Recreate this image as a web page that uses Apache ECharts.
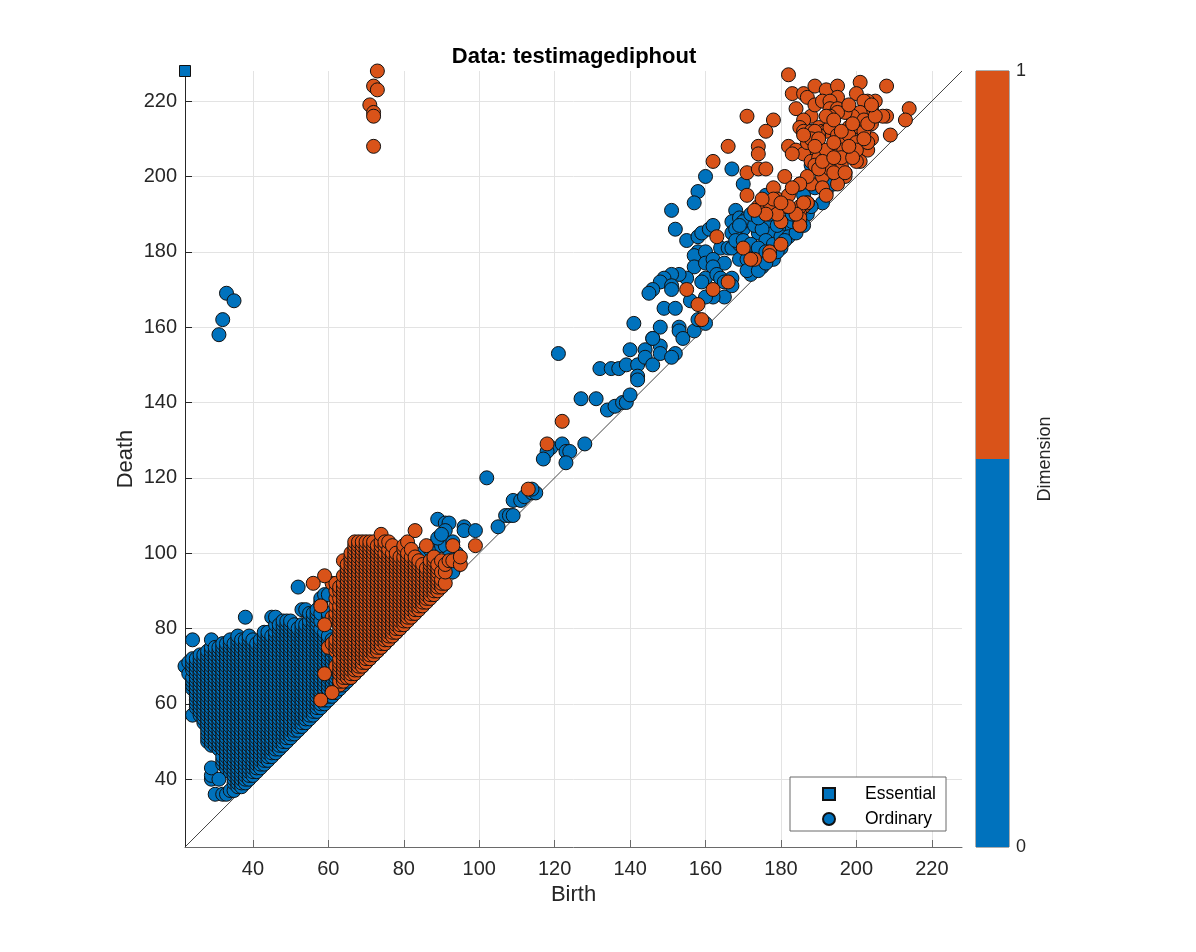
<!DOCTYPE html>
<html><head><meta charset="utf-8">
<style>html,body{margin:0;background:#fff}#c{width:1196px;height:952px}</style>
<script src="https://cdn.jsdelivr.net/npm/echarts@6/dist/echarts.min.js"></script>
</head><body><div id="c"></div>
<script>
const titleText = 'Data: testimagediphout';
const tickValues = [40,60,80,100,120,140,160,180,200,220];
const essential = [[22,228]];
const colorbarPieces = [0.5,0.5];
// Each row: birth, then the deaths read in that column of the lattice
const dim0Columns = [
[22,70],[23,68,71],[24,57,64,65,66,67,69,70,71,72,77],
[25,59,60,61,62,63,64,65,66,67,68,69,70,71,72],
[26,57,58,59,60,61,62,63,64,65,66,67,68,69,70,71,72,73],
[27,55,56,57,58,59,60,61,62,63,64,65,66,67,68,69,70,71,72,73],
[28,50,51,52,53,54,55,56,57,58,59,60,61,62,63,64,65,66,67,68,69,70,71,72,73,74],
[29,40,41,43,49,50,51,52,53,54,55,56,57,58,59,60,61,62,63,64,65,66,67,68,69,70,71,72,73,74,75,77],
[30,36,49,50,51,52,53,54,55,56,57,58,59,60,61,62,63,64,65,66,67,68,69,70,71,72,73,74,75],
[31,40,48,49,50,51,52,53,54,55,56,57,58,59,60,61,62,63,64,65,66,67,68,69,70,71,72,73,74,75],
[32,36,44,45,46,48,49,50,51,52,53,54,55,56,57,58,59,60,61,62,63,64,65,66,67,68,69,70,71,72,73,74,75,76],
[33,36,43,44,45,46,47,48,49,50,51,52,53,54,55,56,57,58,59,60,61,62,63,64,65,66,67,68,69,70,71,72,73,74,75,76],
[34,37,42,43,44,45,46,47,48,49,50,51,52,53,54,55,56,57,58,59,60,61,62,63,64,65,66,67,68,69,70,71,72,73,74,75,76,77],
[35,37,39,40,41,42,43,44,45,46,47,48,49,50,51,52,53,54,55,56,57,58,59,60,61,62,63,64,65,66,67,68,69,70,71,72,73,74,75,76],
[36,38,39,40,41,42,43,44,45,46,47,48,49,50,51,52,53,54,55,56,57,58,59,60,61,62,63,64,65,66,67,68,69,70,71,72,73,74,75,76,77,78],
[37,38,39,40,41,42,43,44,45,46,47,48,49,50,51,52,53,54,55,56,57,58,59,60,61,62,63,64,65,66,67,68,69,70,71,72,73,74,75,76,77],
[38,39,40,41,42,43,44,45,46,47,48,49,50,51,52,53,54,55,56,57,58,59,60,61,62,63,64,65,66,67,68,69,70,71,72,73,74,75,76,77,83],
[39,40,41,42,43,44,45,46,47,48,49,50,51,52,53,54,55,56,57,58,59,60,61,62,63,64,65,66,67,68,69,70,71,72,73,74,75,76,77,78],
[40,41,42,43,44,45,46,47,48,49,50,51,52,53,54,55,56,57,58,59,60,61,62,63,64,65,66,67,68,69,70,71,72,73,74,75,76,77],
[41,42,43,44,45,46,47,48,49,50,51,52,53,54,55,56,57,58,59,60,61,62,63,64,65,66,67,68,69,70,71,72,73,74,75,76],
[42,43,44,45,46,47,48,49,50,51,52,53,54,55,56,57,58,59,60,61,62,63,64,65,66,67,68,69,70,71,72,73,74,75,76,77],
[43,44,45,46,47,48,49,50,51,52,53,54,55,56,57,58,59,60,61,62,63,64,65,66,67,68,69,70,71,72,73,74,75,76,77,78,79],
[44,45,46,47,48,49,50,51,52,53,54,55,56,57,58,59,60,61,62,63,64,65,66,67,68,69,70,71,72,73,74,75,76,77,78,79],
[45,46,47,48,49,50,51,52,53,54,55,56,57,58,59,60,61,62,63,64,65,66,67,68,69,70,71,72,73,74,75,76,77,78,83],
[46,47,48,49,50,51,52,53,54,55,56,57,58,59,60,61,62,63,64,65,66,67,68,69,70,71,72,73,74,75,76,77,78,79,81,83],
[47,48,49,50,51,52,53,54,55,56,57,58,59,60,61,62,63,64,65,66,67,68,69,70,71,72,73,74,75,76,77,78,79,80,81],
[48,49,50,51,52,53,54,55,56,57,58,59,60,61,62,63,64,65,66,67,68,69,70,71,72,73,74,75,76,77,78,79,80,81,82],
[49,50,51,52,53,54,55,56,57,58,59,60,61,62,63,64,65,66,67,68,69,70,71,72,73,74,75,76,77,78,79,80,81,82],
[50,51,52,53,54,55,56,57,58,59,60,61,62,63,64,65,66,67,68,69,70,71,72,73,74,75,76,77,78,79,80,81,82],
[51,52,53,54,55,56,57,58,59,60,61,62,63,64,65,66,67,68,69,70,71,72,73,74,75,76,77,78,79,80,81],
[52,53,54,55,56,57,58,59,60,61,62,63,64,65,66,67,68,69,70,71,72,73,74,75,76,77,78,79,80,91],
[53,54,55,56,57,58,59,60,61,62,63,64,65,66,67,68,69,70,71,72,73,74,75,76,77,78,79,80,81,85],
[54,55,56,57,58,59,60,61,62,63,64,65,66,67,68,69,70,71,72,73,74,75,76,77,78,79,80,81,85],
[55,56,57,58,59,60,61,62,63,64,65,66,67,68,69,70,71,72,73,74,75,76,77,78,79,80,81,82,84],
[56,57,58,59,60,61,62,63,64,65,66,67,68,69,70,71,72,73,74,75,76,77,78,79,80,81,82,83,84],
[57,58,59,60,61,62,63,64,65,66,67,68,69,70,71,72,73,74,75,76,77,78,79,80,81,82,83,84,85],
[58,59,60,61,62,63,64,65,66,67,68,69,70,71,72,73,74,75,76,77,78,79,80,82,84,87,88],
[59,60,61,62,63,64,65,66,67,68,69,70,71,72,73,74,75,76,77,78,79,89],
[60,61,62,63,64,65,66,67,68,69,70,71,72,73,74,75,76,77,78,83,84,89],
[61,62,63,64,65,66,67,68,69,70,71,72,73,74,75,76,77],
[62,63,64,65,66,67,68,69,70,71,72,73,74],
[63,64,65,66,67,68,69,70],[64,65,66,67,68],[65,66,67],[66,67,68],[67,68,69],[68,69,70],[69,70],[70,71],[71,72],[72,73],[73,74],[74,75],[75,76],[76,77],[77,78],[78,79],[79,80],[80,81]
];
const dim0Sparse = [
[85,100],[87,101],[88,102],[90,102],[91,102],[93,103],[93,95],[94,100],[92,99],[89,109],[91,108],[92,108],[91,106],[96,107],[96,106],[99,106],[89,104],[90,105],
[102,120],[105,107],[107,110],[108,110],[109,110],[109,114],[111,114],[112,115],[114,116],[115,116],[114,117],
[33,169],[35,167],[32,162],[31,158],
[121,153],[119,128],[118,127],[117,125],[122,129],[123,127],[124,127],[123,124],[128,129],[127,141],[131,141],
[134,138],[136,139],[138,140],[139,140],[140,142],[132,149],[135,149],[137,149],[139,150],[142,150],[142,147],[142,146],
[140,154],[141,161],[144,154],[144,152],[146,150],[146,157],[148,155],[148,153],[148,160],[149,165],[152,165],[153,160],[153,159],[154,157],[157,159],[152,153],[151,152],[146,157],
[160,200],[158,196],[157,193],[151,191],[152,186],[155,183],[158,184],[159,185],[161,186],[162,187],[158,180],[157,179],[160,180],[164,181],[166,181],[157,176],[160,177],[162,178],[165,177],[162,176],[160,173],[159,172],[163,174],[164,173],[165,172],[165,168],[167,173],[167,171],[162,168],[156,167],[160,168],[155,173],[153,174],[151,174],[149,173],[148,172],[146,170],[145,169],[151,171],[151,170],[160,161],[158,162],
[172,174],[167,202],[170,198],[168,191],[167,188],[169,189],[171,189],[172,188],[167,185],[170,186],[174,185],[177,188],[178,185],[181,186],[183,186],[187,190],[176,195],[167,181],[169,182],[171,180],[169,178],[171,178],[173,176],[175,176],[177,178],[168,186],[170,188],[173,187],[175,186],[176,183],[178,182],[180,184],[182,184],[184,185],[186,187],[168,183],[170,183],[172,182],[174,181],[176,180],[178,178],[180,181],[171,175],[174,175],[176,177],[179,180],[183,188],[185,188],[181,183],[183,190],[179,187],[177,190],[175,192],[172,190],[174,189],[169,187],
[188,203],[191,193],[197,201],[192,196],[194,198],[186,195],[188,192],[189,197],[195,200]
];
const dim1Columns = [
[60,75],[61,76,83,92],[62,70,74,75,76,77,82,83,84,86,88,90,92],
[63,65,66,68,69,70,71,72,74,75,76,77,78,79,80,81,82,83,84,85,86,88,90,91],
[64,66,67,68,69,70,71,72,73,74,75,76,77,78,79,80,81,82,83,84,85,86,87,88,89,90,91,92,94,98],
[65,67,68,69,70,71,72,73,74,75,76,77,78,79,80,81,82,83,84,85,86,87,88,89,90,91,92,93,94,95,96,97],
[66,67,68,69,70,71,72,73,74,75,76,77,78,79,80,81,82,83,84,85,86,87,88,89,90,91,92,93,94,95,96,97,98,99,100],
[67,68,69,70,71,72,73,74,75,76,77,78,79,80,81,82,83,84,85,86,87,88,89,90,91,92,93,94,95,96,97,98,99,100,101,102,103],
[68,69,70,71,72,73,74,75,76,77,78,79,80,81,82,83,84,85,86,87,88,89,90,91,92,93,94,95,96,97,98,99,100,101,102,103],
[69,70,71,72,73,74,75,76,77,78,79,80,81,82,83,84,85,86,87,88,89,90,91,92,93,94,95,96,97,98,99,100,101,102,103],
[70,71,72,73,74,75,76,77,78,79,80,81,82,83,84,85,86,87,88,89,90,91,92,93,94,95,96,97,98,99,100,101,102,103],
[71,72,73,74,75,76,77,78,79,80,81,82,83,84,85,86,87,88,89,90,91,92,93,94,95,96,97,98,99,100,101,102,103],
[72,73,74,75,76,77,78,79,80,81,82,83,84,85,86,87,88,89,90,91,92,93,94,95,96,97,98,99,100,101,102,103],
[73,74,75,76,77,78,79,80,81,82,83,84,85,86,87,88,89,90,91,92,93,94,95,96,97,98,99,100,101,102],
[74,75,76,77,78,79,80,81,82,83,84,85,86,87,88,89,90,91,92,93,94,95,96,97,98,99,100,101,102,103,105],
[75,76,77,78,79,80,81,82,83,84,85,86,87,88,89,90,91,92,93,94,95,96,97,98,99,100,102,103],
[76,77,78,79,80,81,82,83,84,85,86,87,88,89,90,91,92,93,94,95,96,97,98,99,100,101,103],
[77,78,79,80,81,82,83,84,85,86,87,88,89,90,91,92,93,94,95,96,97,98,99,100,102],
[78,79,80,81,82,83,84,85,86,87,88,89,90,91,92,93,94,95,96,97,98,99,100],
[79,80,81,82,83,84,85,86,87,88,89,90,91,92,93,94,95,96,97,98,99],
[80,81,82,83,84,85,86,87,88,89,90,91,92,93,94,95,96,97,98,99,101,102],
[81,82,83,84,85,86,87,88,89,90,91,92,93,94,95,96,97,98,99,100,103],
[82,83,84,85,86,87,88,89,90,91,92,93,94,95,96,97,98,99,101],
[83,84,85,86,87,88,89,90,91,92,93,94,95,96,97,98,99,106],
[84,85,86,87,88,89,90,91,92,93,94,95,96,97,98],
[85,86,87,88,89,90,91,92,93,94,95,96,97],
[86,87,88,89,90,91,92,93,94,95,96,102],
[87,88,89,90,91,92,93,94,95,96,97,98],
[88,89,90,91,92,93,94,95,96,97,98,99],
[89,90,91,92,93,94,95,96,97],
[90,91,92,93,95,98],[91,92,95,97],[92,98],[93,98,102],[95,97,99]
];
const dim1Sparse = [
[59,94],[56,92],[58,86],[59,81],[59,68],[61,63],[58,61],[99,102],[113,117],
[73,228],[72,224],[73,223],[71,219],[72,217],[72,216],[72,208],
[122,135],[118,129],
[163,184],[155,170],[158,166],[159,162],[162,170],[166,172],
[171,195],[171,201],[178,197],[170,181],[173,178],[172,178],[177,180],[177,179],[180,182],[185,187],[180,188],[174,192],[176,191],[177,193],[179,194],[182,195],[181,192],[179,190],[185,198],[188,198],[187,193],[186,192],[185,190],[185,189],
[166,208],[162,204],[171,216],[178,215],[176,212],[174,208],[174,206],[174,202],[176,202],[182,208],[184,207],
[182,227],[183,222],[186,222],[187,221],[189,224],[192,223],[195,224],[195,221],[201,225],[208,224],[200,222],[205,220],[203,220],[202,220],[204,218],[214,218],[213,215],[209,211],[208,216],[207,216],[184,218],[188,216],[189,219],[191,220],[193,220],[193,218],[195,218],
[186,215],[185,213],[186,212],[188,212],[190,213],[191,212],[192,212],[193,213],[190,211],[195,211],[197,209],[198,213],[200,212],[201,217],[199,216],[197,217],[195,217],[193,216],[192,216],[204,210],[203,207],[200,208],[201,204],[200,204],[198,206],[196,207],[193,207],[191,207],[188,207],[186,206],[183,206],[188,204],[190,205],[192,205],[192,202],[194,202],[196,203],[197,200],[195,198],[191,200],[191,197],[187,200],[185,198],[181,200],[192,195],[187,193],[185,187],[189,212],[187,209],[188,210],[190,210],[186,211],[192,207],[198,211],[200,209],[201,213],[202,212],[204,214],[200,207],[203,209],[196,205],[193,202],[194,201],[197,201],[189,203],[190,202],[185,192],[186,193],[184,190],[182,192],[183,197],[178,194],[180,193],[176,190],[175,194],[173,191],[199,205],[202,215],[203,214],[194,215],[196,212],[194,209],[189,208],[191,204],[194,205],[198,208],[202,210],[205,216],[204,219],[198,219],[199,214]
];
const expand = rows => rows.flatMap(r => r.slice(1).map(d => [r[0], d]));
const ordinary0 = expand(dim0Columns).concat(dim0Sparse);
const ordinary1 = expand(dim1Columns).concat(dim1Sparse);

const gridLine = {show:true, lineStyle:{color:'#e3e3e3', width:1}};
const valueAxis = (name, gap, rot, labelMargin, lineColor) => ({
  type:'value', min:22, max:228, gridIndex:0, name, nameLocation:'middle', nameGap:gap, nameRotate:rot, nameMoveOverlap:false,
  nameTextStyle:{fontSize:22, color:'#262626', fontFamily:'Liberation Sans'},
  axisLine:{show:true, onZero:false, lineStyle:{color:lineColor, width:1}},
  axisTick:{show:true, inside:true, length:7, lineStyle:{color:lineColor, width:1}, customValues:tickValues},
  axisLabel:{fontSize:20, color:'#262626', fontFamily:'Liberation Sans', margin:labelMargin, customValues:tickValues, showMinLabel:true, showMaxLabel:true},
  splitLine:gridLine
});
const markerStyle = c => ({color:c, borderColor:'#111', borderWidth:1, opacity:1});
const chart = echarts.init(document.getElementById('c'), null, {renderer:'canvas'});
chart.setOption({
  animation:false, backgroundColor:'#fff',
  title:{text:titleText, left:569, top:41, textAlign:'center', textStyle:{fontSize:22, fontWeight:'bold', color:'#000', fontFamily:'Liberation Sans'}},
  grid:[{left:185, top:71, width:777, height:776},{left:976, top:71, width:33, height:776, show:true, borderColor:'#5a5a5a', borderWidth:1, backgroundColor:'transparent'}],
  xAxis:[valueAxis('Birth', 37, 0, 12, '#6a6a6a'),
    {type:'category', gridIndex:1, data:['c'], show:false}],
  yAxis:[valueAxis('Death', 48, 90, 8, '#262626'),
    {type:'value', gridIndex:1, min:0, max:1, interval:1, position:'right', name:'Dimension', nameLocation:'middle', nameGap:27, nameRotate:90, nameMoveOverlap:false,
     nameTextStyle:{fontSize:18, color:'#262626', fontFamily:'Liberation Sans'},
     axisLine:{show:false}, axisTick:{show:false}, splitLine:{show:false},
     axisLabel:{fontSize:18, color:'#262626', margin:7, fontFamily:'Liberation Sans'}}],
  legend:{left:790, top:777, orient:'vertical', padding:[8,10,3,32], itemGap:7, itemWidth:12, itemHeight:12,
    backgroundColor:'#fff', borderColor:'#6b6b6b', borderWidth:1, selectedMode:false, align:'left',
    textStyle:{fontSize:17.5, color:'#000', fontFamily:'Liberation Sans', padding:[0,0,0,25]},
    data:['Essential','Ordinary']},
  series:[
    {type:'line', xAxisIndex:0, yAxisIndex:0, data:[[22,22],[228,228]], showSymbol:false, symbol:'none', silent:true, z:2,
     lineStyle:{color:'#303030', width:0.9}},
    {name:'Ordinary', type:'scatter', xAxisIndex:0, yAxisIndex:0, data:ordinary0, symbol:'circle', symbolSize:14, clip:false, z:3, itemStyle:markerStyle('#0072BD')},
    {name:'Ordinary dimension 1', type:'scatter', xAxisIndex:0, yAxisIndex:0, data:ordinary1, symbol:'circle', symbolSize:14, clip:false, z:4, itemStyle:markerStyle('#D95319')},
    {name:'Essential', type:'scatter', xAxisIndex:0, yAxisIndex:0, data:essential, symbol:'rect', symbolSize:11, clip:false, z:5, itemStyle:markerStyle('#0072BD')},
    {type:'bar', xAxisIndex:1, yAxisIndex:1, stack:'cb', data:[colorbarPieces[0]], barWidth:'100%', silent:true, itemStyle:{color:'#0072BD'}},
    {type:'bar', xAxisIndex:1, yAxisIndex:1, stack:'cb', data:[colorbarPieces[1]], barWidth:'100%', silent:true, itemStyle:{color:'#D95319'}}
  ]
});
</script></body></html>
